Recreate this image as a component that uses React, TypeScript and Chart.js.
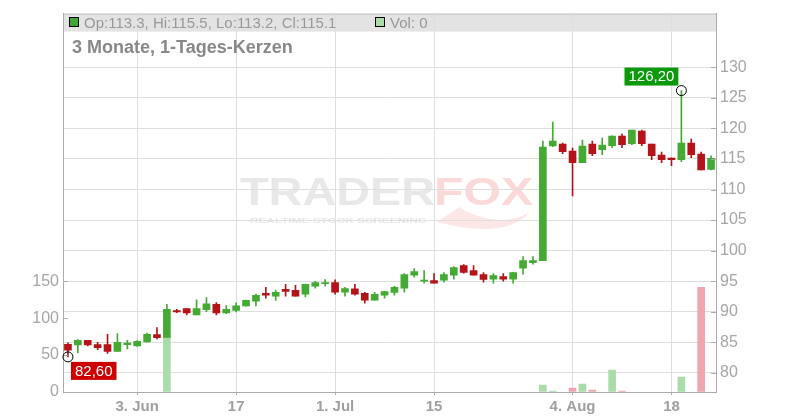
import React, { useEffect, useRef } from "react";
import { Chart, registerables } from "chart.js";

Chart.register(...registerables);

// ---- data ----
const dates = [
  "2025-05-23", "2025-05-26", "2025-05-27", "2025-05-28", "2025-05-29", "2025-05-30",
  "2025-06-02", "2025-06-03", "2025-06-04", "2025-06-05", "2025-06-06",
  "2025-06-09", "2025-06-10", "2025-06-11", "2025-06-12", "2025-06-13",
  "2025-06-16", "2025-06-17", "2025-06-18", "2025-06-19", "2025-06-20",
  "2025-06-23", "2025-06-24", "2025-06-25", "2025-06-26", "2025-06-27",
  "2025-06-30", "2025-07-01", "2025-07-02", "2025-07-03", "2025-07-04",
  "2025-07-07", "2025-07-08", "2025-07-09", "2025-07-10", "2025-07-11",
  "2025-07-14", "2025-07-15", "2025-07-16", "2025-07-17", "2025-07-18",
  "2025-07-21", "2025-07-22", "2025-07-23", "2025-07-24", "2025-07-25",
  "2025-07-28", "2025-07-29", "2025-07-30", "2025-07-31", "2025-08-01",
  "2025-08-04", "2025-08-05", "2025-08-06", "2025-08-07", "2025-08-08",
  "2025-08-11", "2025-08-12", "2025-08-13", "2025-08-14", "2025-08-15",
  "2025-08-18", "2025-08-19", "2025-08-20", "2025-08-21", "2025-08-22",
];

const opens = [
  84.67, 84.56, 85.3, 84.6, 84.6, 83.5, 84.6, 84.4, 85.05, 86.25,
  85.8, 90.2, 90.5, 89.45, 90.33, 91.2, 89.78, 90.2, 90.93, 91.73,
  93.0, 92.55, 93.64, 93.48, 92.88, 94.18, 94.6, 94.78, 93.2, 93.75,
  93.0, 91.9, 92.72, 93.15, 93.86, 95.97, 95.0, 95.1, 95.16, 95.97,
  97.55, 96.74, 96.09, 95.32, 95.76, 95.32, 97.12, 98.04, 98.37, 117.12,
  117.44, 116.3, 114.4, 117.44, 116.52, 117.17, 118.75, 117.5, 119.56, 117.44,
  115.65, 115.16, 114.89, 117.6, 115.81, 113.3,
];
const highs = [
  84.9, 85.45, 85.3, 85.0, 86.3, 86.4, 85.3, 85.25, 86.5, 87.4,
  91.2, 90.4, 90.5, 91.95, 92.3, 91.5, 91.0, 91.45, 91.9, 92.9,
  93.97, 93.55, 94.46, 94.3, 94.5, 94.95, 95.27, 95.22, 93.97, 94.46,
  93.15, 93.15, 93.35, 94.13, 96.25, 97.06, 96.74, 96.25, 96.41, 97.39,
  97.72, 97.55, 96.41, 96.25, 96.25, 96.45, 99.0, 99.0, 117.93, 121.03,
  117.6, 116.8, 118.1, 117.93, 118.42, 118.8, 119.07, 119.75, 119.73, 117.45,
  116.14, 115.2, 126.2, 118.26, 116.14, 115.5,
];
const lows = [
  82.6, 83.25, 84.4, 83.8, 83.15, 83.5, 83.9, 84.3, 85.0, 85.55,
  85.8, 89.85, 89.45, 89.45, 90.0, 89.45, 89.67, 89.95, 90.9, 90.93,
  92.23, 91.85, 92.55, 92.55, 92.4, 93.86, 94.18, 92.88, 92.55, 92.7,
  91.4, 91.9, 92.23, 92.72, 93.2, 95.65, 94.67, 94.67, 94.83, 95.32,
  96.3, 95.97, 94.83, 94.67, 95.0, 94.67, 96.14, 97.77, 98.37, 117.0,
  115.87, 108.97, 114.4, 115.54, 115.7, 116.85, 116.85, 117.33, 117.17, 114.89,
  114.4, 113.9, 114.56, 115.21, 113.2, 113.2,
];
const closes = [
  83.7, 85.3, 84.55, 84.1, 83.5, 85.0, 84.85, 85.15, 86.3, 85.75,
  90.4, 89.95, 89.8, 90.5, 91.3, 89.8, 90.38, 90.95, 91.85, 92.66,
  92.7, 93.15, 93.3, 92.55, 94.46, 94.78, 94.75, 93.2, 93.8, 92.88,
  91.9, 92.83, 93.31, 93.97, 96.09, 96.58, 95.1, 94.67, 96.09, 97.23,
  96.41, 95.97, 95.27, 95.92, 95.32, 96.41, 98.37, 98.37, 116.96, 117.93,
  116.19, 114.4, 117.12, 115.87, 117.28, 118.75, 117.33, 119.73, 117.5, 115.54,
  114.89, 114.89, 117.6, 115.7, 113.2, 115.1,
];
const volumes = [
  0, 0, 0, 0, 0, 0, 0, 0, 0, 0,
  75, 0, 0, 0, 0, 0, 0, 0, 0, 0,
  0, 0, 0, 0, 0, 0, 0, 0, 0, 0,
  0, 0, 0, 0, 0, 0, 0, 0, 0, 0,
  0, 0, 0, 0, 0, 0, 0, 0, 9.4, 1.3,
  0, 5.4, 10.8, 2.7, 0, 29.6, 1.3, 0, 0, 0,
  0, 0, 20.2, 0, 141.5, 0,
];

const tickDates = ["2025-06-03", "2025-06-17", "2025-07-01", "2025-07-15", "2025-08-04", "2025-08-18"];
const tickTexts = ["3. Jun", "17", "1. Jul", "15", "4. Aug", "18"];
const priceTicks = [80, 85, 90, 95, 100, 105, 110, 115, 120, 125, 130];
const volumeTicks = [0, 50, 100, 150];

const TITLE = "3 Monate, 1-Tages-Kerzen";

// ---- styles ----
const GREEN = "#44aa33";
const RED = "#b41419";
const VGREEN = "#aadcaa";
const VRED = "#f0a5af";
const FONT = '"Liberation Sans", Arial, sans-serif';
const AXIS = "#ababab";
const GRID = "#dedede";

export default function App() {
  const ref = useRef<HTMLCanvasElement>(null);

  useEffect(() => {
    const up = closes.map((c, i) => c >= opens[i]);
    const colors = up.map((u) => (u ? GREEN : RED));
    const vcolors = up.map((u) => (u ? VGREEN : VRED));
    const tickMap = new Map<number, string>();
    tickDates.forEach((d, k) => tickMap.set(dates.indexOf(d), tickTexts[k]));

    let lowIdx = 0;
    let highIdx = 0;
    lows.forEach((v, i) => { if (v < lows[lowIdx]) lowIdx = i; });
    highs.forEach((v, i) => { if (v > highs[highIdx]) highIdx = i; });

    const fmt = (v: number) => v.toFixed(2).replace(".", ",");

    const plugin = {
      id: "decor",
      beforeDraw(chart: any) {
        const { ctx, chartArea } = chart;
        const { left, right, top } = chartArea;
        ctx.save();
        ctx.fillStyle = "#ffffff";
        ctx.fillRect(0, 0, chart.width, chart.height);
        // header band
        ctx.fillStyle = "#e3e3e3";
        ctx.fillRect(left, top, right - left, 18);
        ctx.strokeStyle = "#c4c4c4";
        ctx.lineWidth = 1;
        ctx.beginPath();
        ctx.moveTo(left, top + 0.5);
        ctx.lineTo(right, top + 0.5);
        ctx.stroke();

        // watermark
        ctx.textBaseline = "alphabetic";
        ctx.textAlign = "left";
        ctx.font = `bold 39px ${FONT}`;
        const w1 = ctx.measureText("TRADER").width;
        ctx.save();
        ctx.translate(240, 205);
        ctx.scale(195 / w1, 1);
        ctx.fillStyle = "#e8e8e8";
        ctx.fillText("TRADER", 0, 0);
        ctx.restore();
        const w2 = ctx.measureText("FOX").width;
        ctx.save();
        ctx.translate(434, 205);
        ctx.scale(99 / w2, 1);
        ctx.fillStyle = "#fbd9d9";
        ctx.fillText("FOX", 0, 0);
        ctx.restore();
        // tail swoosh
        ctx.fillStyle = "#fde6e6";
        ctx.beginPath();
        ctx.moveTo(437, 222);
        ctx.quadraticCurveTo(470, 200, 460, 208);
        ctx.quadraticCurveTo(500, 230, 530, 212);
        ctx.quadraticCurveTo(505, 240, 437, 222);
        ctx.fill();
        ctx.font = `bold 8px ${FONT}`;
        const w3 = ctx.measureText("REALTIME STOCK SCREENING").width;
        ctx.save();
        ctx.translate(250, 223);
        ctx.scale(177 / w3, 1);
        ctx.fillStyle = "#e6e6e6";
        ctx.fillText("REALTIME STOCK SCREENING", 0, 0);
        ctx.restore();
        ctx.restore();
      },
      afterDraw(chart: any) {
        const { ctx, chartArea, scales } = chart;
        const { left, right, top } = chartArea;
        const x = scales.x;
        const y = scales.y;
        const yv = scales.yVol;
        ctx.save();
        // inner tick marks
        ctx.strokeStyle = AXIS;
        ctx.lineWidth = 1;
        ctx.beginPath();
        priceTicks.forEach((v) => {
          const py = Math.round(y.getPixelForValue(v)) + 0.5;
          ctx.moveTo(right - 5, py);
          ctx.lineTo(right, py);
        });
        volumeTicks.forEach((v) => {
          const py = Math.round(yv.getPixelForValue(v)) + 0.5;
          ctx.moveTo(left, py);
          ctx.lineTo(left + 5, py);
        });
        ctx.stroke();

        // header text
        const last = opens.length - 1;
        ctx.fillStyle = "#3fa535";
        ctx.fillRect(69, 17, 10, 10);
        ctx.strokeStyle = "#000";
        ctx.strokeRect(69.5, 17.5, 9, 9);
        ctx.fillStyle = "#999999";
        ctx.font = `15px ${FONT}`;
        ctx.textBaseline = "middle";
        ctx.textAlign = "left";
        ctx.fillText(
          `Op:${opens[last].toFixed(1)}, Hi:${highs[last].toFixed(1)}, Lo:${lows[last].toFixed(1)}, Cl:${closes[last].toFixed(1)}`,
          84,
          top + 10
        );
        ctx.fillStyle = VGREEN;
        ctx.fillRect(375, 17, 10, 10);
        ctx.strokeStyle = "#000";
        ctx.strokeRect(375.5, 17.5, 9, 9);
        ctx.fillStyle = "#999999";
        ctx.fillText(`Vol: ${volumes[last]}`, 390, top + 10);

        // title
        ctx.fillStyle = "#888888";
        ctx.font = `bold 18px ${FONT}`;
        ctx.fillText(TITLE, 72, 48);

        // markers
        const drawMarker = (idx: number, val: number, bg: string, below: boolean) => {
          const cx = x.getPixelForValue(idx);
          const cy = y.getPixelForValue(val);
          ctx.strokeStyle = "#000";
          ctx.lineWidth = 1;
          ctx.beginPath();
          ctx.arc(cx, cy, 5, 0, Math.PI * 2);
          ctx.stroke();
          ctx.font = `15px ${FONT}`;
          const txt = fmt(val);
          const tw = ctx.measureText(txt).width;
          const bw = tw + 8;
          const bh = 18;
          const bx = below ? cx + 3 : cx - 3 - bw;
          const by = below ? cy + 5 : cy - 5 - bh;
          ctx.fillStyle = bg;
          ctx.fillRect(bx, by, bw, bh);
          ctx.fillStyle = "#ffffff";
          ctx.textAlign = "center";
          ctx.textBaseline = "middle";
          ctx.fillText(txt, bx + bw / 2, by + bh / 2 + 0.5);
        };
        drawMarker(lowIdx, lows[lowIdx], "#cc0000", true);
        drawMarker(highIdx, highs[highIdx], "#0c990c", false);
        ctx.restore();
      },
    };

    const chart = new Chart(ref.current as HTMLCanvasElement, {
      type: "bar",
      data: {
        labels: dates,
        datasets: [
          {
            label: "Volume",
            data: volumes.map((v) => (v > 0 ? v : null)),
            yAxisID: "yVol",
            backgroundColor: vcolors,
            borderWidth: 0,
            barThickness: 7,
            grouped: false,
            order: 3,
          } as any,
          {
            label: "Wick",
            data: lows.map((l, i) => [l, highs[i]]),
            yAxisID: "y",
            backgroundColor: colors,
            borderWidth: 0,
            barThickness: 1,
            grouped: false,
            order: 2,
          } as any,
          {
            label: "Body",
            data: opens.map((o, i) => [o, closes[i]]),
            yAxisID: "y",
            backgroundColor: colors,
            borderWidth: 0,
            barThickness: 7,
            minBarLength: 1,
            grouped: false,
            order: 1,
          } as any,
        ],
      },
      options: {
        responsive: false,
        animation: false,
        devicePixelRatio: 1,
        layout: { padding: { top: 12, left: 0, right: 0, bottom: 0 } },
        plugins: {
          legend: { display: false },
          tooltip: { enabled: false },
          title: { display: false },
        },
        scales: {
          x: {
            type: "category",
            offset: true,
            grid: {
              offset: false,
              color: (c: any) => (tickMap.has(c.index) ? GRID : "rgba(0,0,0,0)"),
              tickColor: (c: any) => (tickMap.has(c.index) ? AXIS : "rgba(0,0,0,0)"),
              tickLength: 3,
              drawTicks: true,
            },
            border: { color: AXIS },
            ticks: {
              autoSkip: false,
              maxRotation: 0,
              minRotation: 0,
              padding: 3,
              color: "#a0a0a0",
              font: { family: FONT, size: 15, weight: "bold" },
              callback: (_v: any, i: number) => tickMap.get(i) ?? "",
            },
            afterFit: (s: any) => { s.height = 28; },
          },
          y: {
            type: "linear",
            position: "right",
            min: 76.85,
            max: 138.8,
            grid: { color: GRID, drawTicks: false },
            border: { color: AXIS },
            ticks: {
              padding: 4,
              color: "#a6a6a6",
              font: { family: FONT, size: 16 },
            },
            afterBuildTicks: (s: any) => { s.ticks = priceTicks.map((v) => ({ value: v })); },
            afterFit: (s: any) => { s.width = 84; },
          },
          yVol: {
            type: "linear",
            position: "left",
            min: 0,
            max: 512,
            grid: { display: true, drawOnChartArea: false, drawTicks: false },
            border: { color: AXIS },
            ticks: {
              padding: 4,
              color: "#a6a6a6",
              font: { family: FONT, size: 16 },
            },
            afterBuildTicks: (s: any) => { s.ticks = volumeTicks.map((v) => ({ value: v })); },
            afterFit: (s: any) => { s.width = 63; },
          },
        },
      } as any,
      plugins: [plugin],
    });
    return () => chart.destroy();
  }, []);

  return (
    <div style={{ position: "fixed", left: 0, top: 0, width: 800, height: 420, background: "#fff" }}>
      <canvas ref={ref} width={800} height={420} style={{ display: "block", width: 800, height: 420 }} />
    </div>
  );
}
